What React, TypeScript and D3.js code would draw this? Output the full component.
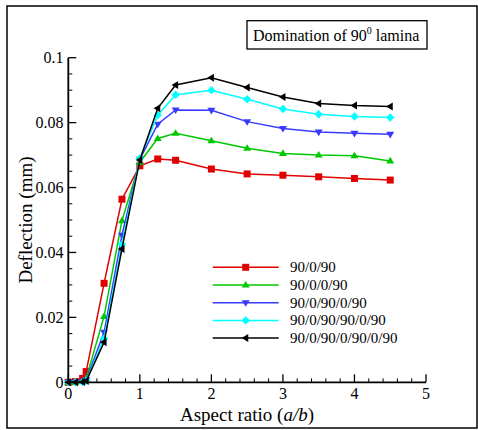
import React from "react";
import * as d3 from "d3";

const xValues = [0, 0.1, 0.2, 0.25, 0.5, 0.75, 1, 1.25, 1.5, 2, 2.5, 3, 3.5, 4, 4.5];

const s1 = [0, 0.0002, 0.0012, 0.0033, 0.0305, 0.0564, 0.0667, 0.0688, 0.0684, 0.0657, 0.0642, 0.0638, 0.0633, 0.0628, 0.0623];
const s2 = [0, 0, 0.0003, 0.0012, 0.0203, 0.0498, 0.0678, 0.0751, 0.0767, 0.0744, 0.0721, 0.0705, 0.07, 0.0698, 0.0682];
const s3 = [0, 0, 0.0002, 0.0008, 0.0154, 0.0453, 0.0687, 0.0795, 0.0839, 0.0838, 0.0803, 0.0782, 0.0771, 0.0767, 0.0764];
const s4 = [0, 0, 0.0001, 0.0005, 0.0135, 0.0425, 0.069, 0.0823, 0.0886, 0.09, 0.0872, 0.0842, 0.0826, 0.0819, 0.0816];
const s5 = [0, 0, 0.0001, 0.0004, 0.0123, 0.0411, 0.0685, 0.0844, 0.0916, 0.0938, 0.0908, 0.0879, 0.0859, 0.0853, 0.085];

const seriesNames = ["90/0/90", "90/0/0/90", "90/0/90/0/90", "90/0/90/90/0/90", "90/0/90/0/90/0/90"];
const seriesValues = [s1, s2, s3, s4, s5];
const seriesColors = ["#e00000", "#00c800", "#3a3aff", "#00ffff", "#000000"];
const seriesMarkers = ["square", "up", "down", "diamond", "left"];

const xTicks = [0, 1, 2, 3, 4, 5];
const yTicks = [0, 0.02, 0.04, 0.06, 0.08, 0.1];
const yTickLabels = ["0", "0.02", "0.04", "0.06", "0.08", "0.1"];

const W = 478;
const H = 430;
const SERIF = "Liberation Serif";

function Marker({ type, x, y, color }: { type: string; x: number; y: number; color: string }) {
  const r = 3.6;
  let d = "";
  if (type === "square") {
    return <rect x={x - 3.5} y={y - 3.5} width={7} height={7} fill={color} />;
  } else if (type === "up") {
    d = `M${x},${y - r - 0.5} L${x + r + 0.4},${y + r * 0.7} L${x - r - 0.4},${y + r * 0.7} Z`;
  } else if (type === "down") {
    d = `M${x},${y + r + 0.5} L${x + r + 0.4},${y - r * 0.7} L${x - r - 0.4},${y - r * 0.7} Z`;
  } else if (type === "diamond") {
    d = `M${x},${y - r - 0.6} L${x + r + 0.6},${y} L${x},${y + r + 0.6} L${x - r - 0.6},${y} Z`;
  } else if (type === "left") {
    d = `M${x - r - 0.5},${y} L${x + r * 0.7},${y - r - 0.4} L${x + r * 0.7},${y + r + 0.4} Z`;
  }
  return <path d={d} fill={color} />;
}

export default function App() {
  const x = d3.scaleLinear().domain([0, 5]).range([68.3, 426]);
  const y = d3.scaleLinear().domain([0, 0.1]).range([382.3, 57.7]);

  const line = d3
    .line<[number, number]>()
    .x((d) => x(d[0]))
    .y((d) => y(d[1]));

  const xMinor = d3.range(0, 5.0001, 0.2).filter((v) => Math.abs(v - Math.round(v)) > 1e-6);
  const yMinor = d3.range(0, 0.10001, 0.005).filter((v) => Math.abs(v / 0.02 - Math.round(v / 0.02)) > 1e-6);

  const legendX1 = 212.7;
  const legendX2 = 278.7;
  const legendRows = [267.3, 285.0, 302.7, 320.4, 338.1];

  return (
    <div style={{ position: "absolute", left: 0, top: 0, width: W, height: H }}>
      <svg width={W} height={H} style={{ display: "block", background: "#fff" }}>
        <rect x={0} y={0} width={W} height={H} fill="#fff" />
        {/* outer frame */}
        <rect x={7} y={6} width={470} height={422} fill="none" stroke="#000" strokeWidth={1.5} />

        {/* title box */}
        <rect x={247} y={20.7} width={180} height={28.3} fill="#fff" stroke="#000" strokeWidth={1.3} />
        <text x={253} y={40.5} fontSize={16} fontFamily={SERIF} fill="#000">
          Domination of 90
          <tspan fontSize={10} dy={-7}>0</tspan>
          <tspan dy={7}> lamina</tspan>
        </text>

        {/* series */}
        {seriesValues.map((vals, i) => {
          const pts = xValues.map((xv, j) => [xv, vals[j]] as [number, number]);
          return (
            <g key={seriesNames[i]}>
              <path d={line(pts) || ""} fill="none" stroke={seriesColors[i]} strokeWidth={1.5} />
              {pts.map((p, j) => (
                <Marker key={j} type={seriesMarkers[i]} x={x(p[0])} y={y(p[1])} color={seriesColors[i]} />
              ))}
            </g>
          );
        })}

        {/* axes */}
        <line x1={x(0)} x2={x(0)} y1={y(0.1)} y2={y(0)} stroke="#000" strokeWidth={1.8} />
        <line x1={x(0)} x2={x(5)} y1={y(0)} y2={y(0)} stroke="#000" strokeWidth={1.8} />
        {xTicks.map((t) => (
          <g key={"xt" + t}>
            <line x1={x(t)} x2={x(t)} y1={y(0)} y2={y(0) - 8} stroke="#000" strokeWidth={1.3} />
            <text x={x(t)} y={399} fontSize={16} fontFamily={SERIF} textAnchor="middle" fill="#000">
              {String(t)}
            </text>
          </g>
        ))}
        {xMinor.map((t) => (
          <line key={"xm" + t} x1={x(t)} x2={x(t)} y1={y(0)} y2={y(0) - 4} stroke="#000" strokeWidth={1} />
        ))}
        {yTicks.map((t, i) => (
          <g key={"yt" + t}>
            <line x1={x(0)} x2={x(0) + 8} y1={y(t)} y2={y(t)} stroke="#000" strokeWidth={1.3} />
            <text x={63.5} y={y(t) + 5.5} fontSize={16} fontFamily={SERIF} textAnchor="end" fill="#000">
              {yTickLabels[i]}
            </text>
          </g>
        ))}
        {yMinor.map((t) => (
          <line key={"ym" + t} x1={x(0)} x2={x(0) + 4} y1={y(t)} y2={y(t)} stroke="#000" strokeWidth={1} />
        ))}

        {/* axis titles */}
        <text x={247} y={421} fontSize={19} fontFamily={SERIF} textAnchor="middle" fill="#000">
          Aspect ratio (<tspan fontStyle="italic">a/b</tspan>)
        </text>
        <text transform={`translate(32,220) rotate(-90)`} fontSize={19} fontFamily={SERIF} textAnchor="middle" fill="#000">
          Deflection (mm)
        </text>

        {/* legend */}
        {seriesNames.map((name, i) => (
          <g key={"lg" + i}>
            <line x1={legendX1} x2={legendX2} y1={legendRows[i]} y2={legendRows[i]} stroke={seriesColors[i]} strokeWidth={1.5} />
            <Marker type={seriesMarkers[i]} x={(legendX1 + legendX2) / 2} y={legendRows[i]} color={seriesColors[i]} />
            <text x={290} y={legendRows[i] + 5} fontSize={15} fontFamily={SERIF} fill="#000">
              {name}
            </text>
          </g>
        ))}
      </svg>
    </div>
  );
}
